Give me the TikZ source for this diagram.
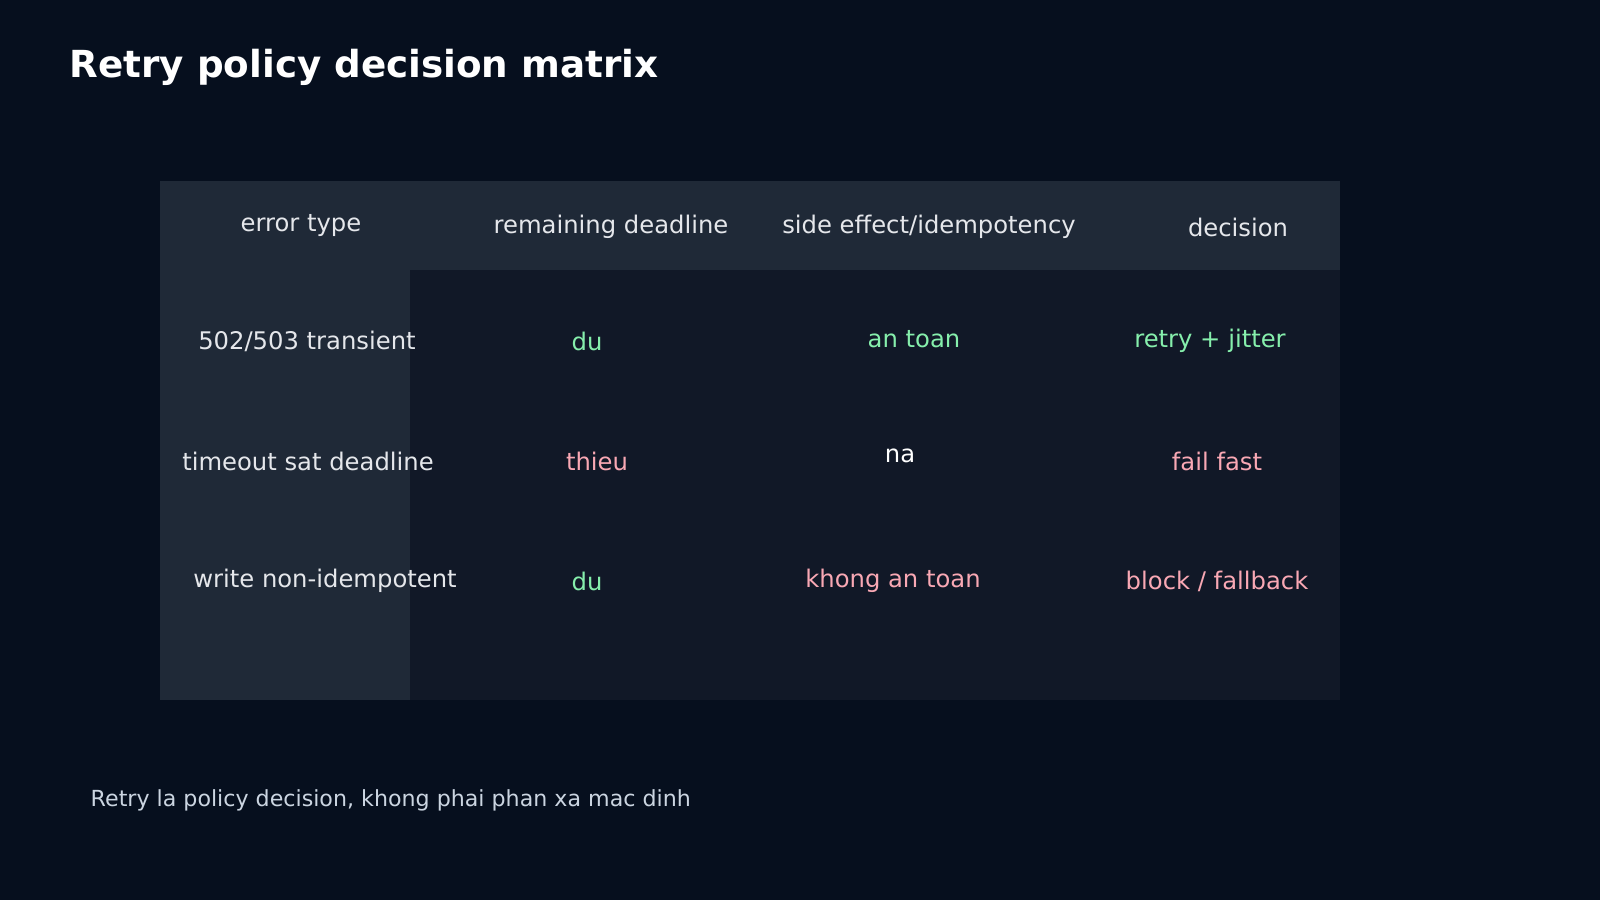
\documentclass[tikz,border=0pt]{standalone}
\usepackage{fontspec}
\setmainfont{DejaVu Sans}
\definecolor{bg}{HTML}{060F1E}
\definecolor{hdr}{HTML}{1F2937}
\definecolor{body}{HTML}{111827}
\definecolor{okc}{HTML}{86EFAC}
\definecolor{badc}{HTML}{F9A8B4}
\definecolor{txt}{HTML}{E5E7EB}
\definecolor{foot}{HTML}{CBD5E1}
\begin{document}
\begin{tikzpicture}[x=0.01cm,y=-0.01cm,
  cell/.style={font=\fontsize{6.9pt}{8pt}\selectfont,text=txt,inner sep=0pt},
  ok/.style={cell,text=okc},
  bad/.style={cell,text=badc}]
\fill[bg] (0,0) rectangle (1600,900);
\useasboundingbox (0,0) rectangle (1600,900);
\fill[body] (160,181) rectangle (1340,700);
\fill[hdr] (160,181) rectangle (1340,270);
\fill[hdr] (160,181) rectangle (410,700);
\node[anchor=west,text=white,font=\fontsize{10.6pt}{12pt}\selectfont\bfseries,inner sep=0pt] (title) at (69,67) {Retry policy decision matrix};
\node[cell] (h1) at (301,226) {error type};
\node[cell] (h2) at (611,227) {remaining deadline};
\node[cell] (h3) at (929,227) {side effect/idempotency};
\node[cell] (h4) at (1238,227) {decision};
\node[cell] (r1c1) at (307,341) {502/503 transient};
\node[ok] (r1c2) at (587,341) {du};
\node[ok] (r1c3) at (914,339) {an toan};
\node[ok] (r1c4) at (1210,341) {retry + jitter};
\node[cell] (r2c1) at (308,461) {timeout sat deadline};
\node[bad] (r2c2) at (597,461) {thieu};
\node[cell,text=white] (r2c3) at (900,456) {na};
\node[bad] (r2c4) at (1217,461) {fail fast};
\node[cell] (r3c1) at (325,581) {write non-idempotent};
\node[ok] (r3c2) at (587,581) {du};
\node[bad] (r3c3) at (893,581) {khong an toan};
\node[bad] (r3c4) at (1217,581) {block / fallback};
\node[anchor=west,text=foot,font=\fontsize{6.3pt}{7pt}\selectfont,inner sep=0pt] (note) at (90,800) {Retry la policy decision, khong phai phan xa mac dinh};
\end{tikzpicture}
\end{document}
